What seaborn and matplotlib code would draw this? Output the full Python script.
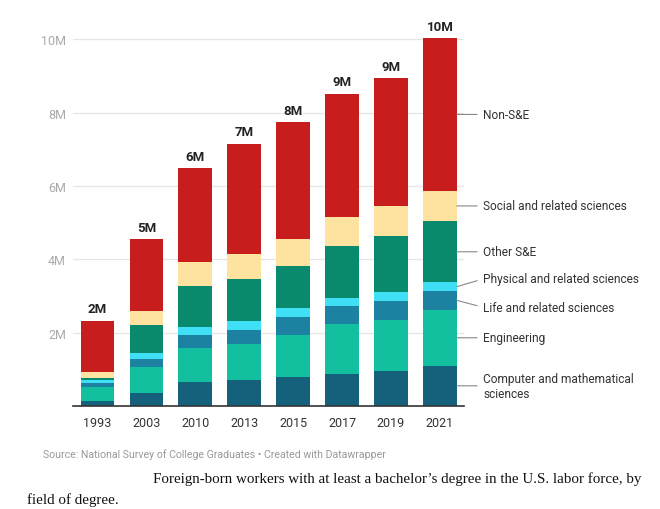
import numpy as np
import seaborn as sns
import matplotlib.pyplot as plt

# values in millions
years = ["1993", "2003", "2010", "2013", "2015", "2017", "2019", "2021"]
computer = [0.14, 0.35, 0.65, 0.71, 0.80, 0.87, 0.96, 1.10]
engineering = [0.37, 0.71, 0.93, 0.98, 1.14, 1.36, 1.39, 1.52]
life = [0.12, 0.22, 0.36, 0.39, 0.48, 0.51, 0.52, 0.52]
physical = [0.09, 0.17, 0.22, 0.23, 0.24, 0.21, 0.23, 0.23]
other_se = [0.03, 0.77, 1.10, 1.15, 1.17, 1.41, 1.54, 1.67]
social = [0.19, 0.38, 0.66, 0.69, 0.72, 0.79, 0.81, 0.83]
non_se = [1.39, 1.95, 2.56, 3.00, 3.19, 3.37, 3.49, 4.16]

# bottom to top
layers = [
    ("Computer and mathematical\nsciences", computer, "#15607a", 0),
    ("Engineering", engineering, "#12bf9f", 0),
    ("Life and related sciences", life, "#1d81a2", -5),
    ("Physical and related sciences", physical, "#3fe0f5", 5.5),
    ("Other S&E", other_se, "#0a8a6c", 0),
    ("Social and related sciences", social, "#fde2a0", 0),
    ("Non-S&E", non_se, "#c71e1d", 0),
]

sns.set_theme(style="white")
plt.rcParams["font.family"] = ["Roboto", "DejaVu Sans"]

fig = plt.figure(figsize=(6.6, 5.1), dpi=100)
ax = fig.add_axes([0.1106, 0.202, 0.593, 0.755])

stack = np.array([layer[1] for layer in layers])
tops = stack.cumsum(axis=0)
bar_w = 0.69

# overlay cumulative bars, tallest first
for i in range(len(layers) - 1, -1, -1):
    sns.barplot(x=years, y=tops[i], color=layers[i][2], saturation=1,
                width=bar_w, linewidth=0, edgecolor="none", ax=ax)

ax.set_xlim(-0.5, 7.5)
ax.set_ylim(0, 10.5)
ax.set_yticks([2, 4, 6, 8, 10])
ax.set_yticklabels(["2M", "4M", "6M", "8M", "10M"])
ax.yaxis.grid(True, color="#e6e6e6", lw=0.9)
ax.set_axisbelow(True)
for s in ["top", "right", "left"]:
    ax.spines[s].set_visible(False)
ax.spines["bottom"].set_color("#333333")
ax.spines["bottom"].set_linewidth(1.2)
ax.tick_params(axis="y", length=0, pad=5, labelsize=9, labelcolor="#aaaaaa")
ax.tick_params(axis="x", length=0, pad=7, labelsize=9, labelcolor="#333333")
ax.set_xlabel("")
ax.set_ylabel("")

# totals above bars
totals = tops[-1]
for i, t in enumerate(totals):
    ax.annotate(f"{round(t)}M", (i, t), xytext=(0, 4), textcoords="offset points",
                ha="center", va="bottom", fontsize=9.5, fontweight="bold",
                color="#222222")

# direct labels next to the last bar
last = len(years) - 1
for i, (name, vals, col, dy) in enumerate(layers):
    mid = tops[i][last] - vals[last] / 2
    ax.annotate(name, (last + bar_w / 2, mid), xytext=(19, dy),
                textcoords="offset points", ha="left", va="center",
                fontsize=8.6, color="#333333", annotation_clip=False,
                arrowprops=dict(arrowstyle="-", color="#888888", lw=0.8,
                                shrinkA=2, shrinkB=0, relpos=(0, 0.5)))

fig.text(0.065, 0.108, "Source: National Survey of College Graduates \u2022 Created with Datawrapper",
         fontsize=7.6, color="#999999", va="center")
fig.text(0.232, 0.061, "Foreign-born workers with at least a bachelor\u2019s degree in the U.S. labor force, by",
         fontsize=10.8, family="Liberation Serif", color="#111111", va="center")
fig.text(0.041, 0.02, "field of degree.",
         fontsize=10.8, family="Liberation Serif", color="#111111", va="center")

fig.savefig("out.png", dpi=100)
